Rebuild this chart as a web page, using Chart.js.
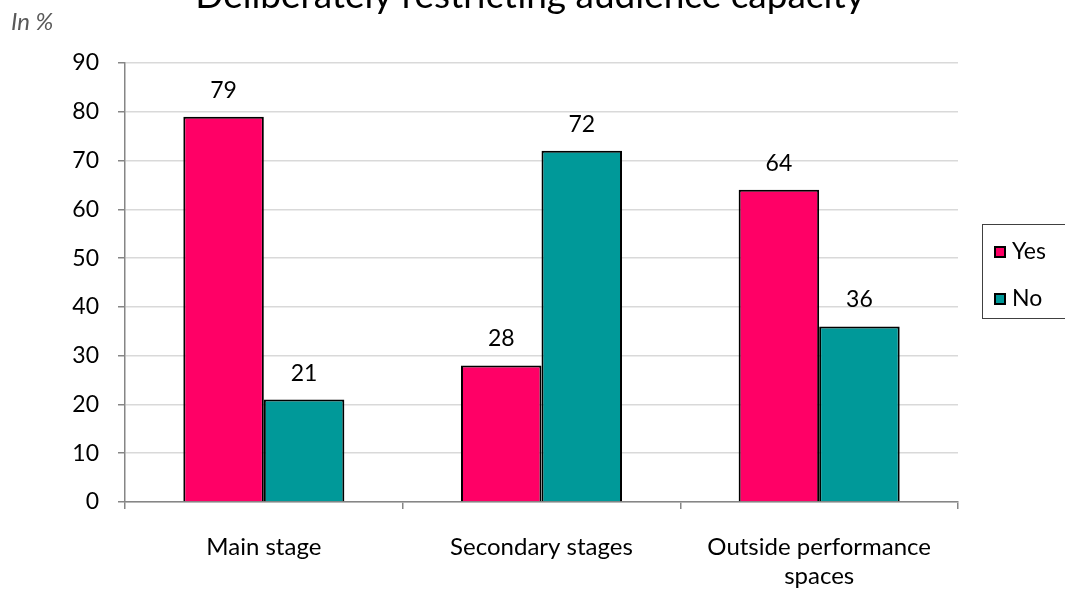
<!DOCTYPE html>
<html>
<head>
<meta charset="utf-8">
<script src="https://cdn.jsdelivr.net/npm/chart.js@4"></script>
<style>
  body { margin: 0; background: #fff; overflow: hidden; }
  #wrap { position: relative; width: 1065px; height: 589px; }
  #legend {
    position: absolute; left: 982px; top: 224px; width: 100px; height: 95px;
    border: 1px solid #404040; box-sizing: border-box;
    font-family: Lato, sans-serif; font-size: 23px; color: #000;
  }
  #legend div { position: absolute; left: 11px; height: 26px; line-height: 26px; }
  #legend span {
    display: inline-block; width: 8px; height: 8px; border: 2px solid #000;
    vertical-align: 1px; margin-right: 6px;
  }
</style>
</head>
<body>
<div id="wrap">
  <canvas id="chart" width="1065" height="589"></canvas>
  <div id="legend">
    <div style="top:12px"><span style="background:#FF0066"></span>Yes</div>
    <div style="top:59px"><span style="background:#009999"></span>No</div>
  </div>
</div>
<script>
let categories = ['Main stage', 'Secondary stages', ['Outside performance', 'spaces']];
let yesValues = [79, 28, 64];
let noValues = [21, 72, 36];
let yTicks = [0, 10, 20, 30, 40, 50, 60, 70, 80, 90];

const font = 'Lato, sans-serif';

// title (partly above the canvas), unit label and values over the bars
let extras = {
    id: 'extras',
    afterDatasetsDraw(chart) {
        let ctx = chart.ctx;
        ctx.save();
        ctx.fillStyle = '#000';
        ctx.font = '37px ' + font;
        ctx.textAlign = 'center';
        ctx.textBaseline = 'alphabetic';
        ctx.fillText('Deliberately restricting audience capacity', 530, 8);

        ctx.font = 'italic 24px ' + font;
        ctx.fillStyle = '#595959';
        ctx.textAlign = 'left';
        ctx.fillText('In %', 11, 30);

        ctx.font = '23px ' + font;
        ctx.fillStyle = '#000';
        ctx.textAlign = 'center';
        chart.data.datasets.forEach((ds, i) => {
            chart.getDatasetMeta(i).data.forEach((bar, j) => {
                ctx.fillText(ds.data[j], bar.x, bar.y - 19);
            });
        });
        ctx.restore();
    }
};

new Chart(document.getElementById('chart'), {
    type: 'bar',
    data: {
        labels: categories,
        datasets: [
            {
                label: 'Yes',
                data: yesValues,
                backgroundColor: '#FF0066',
                borderColor: '#000',
                borderWidth: 2,
                borderSkipped: 'bottom'
            },
            {
                label: 'No',
                data: noValues,
                backgroundColor: '#009999',
                borderColor: '#000',
                borderWidth: 2,
                borderSkipped: 'bottom'
            }
        ]
    },
    options: {
        responsive: false,
        animation: false,
        layout: { padding: { top: 63, right: 107, left: 0, bottom: 0 } },
        datasets: { bar: { categoryPercentage: 0.58, barPercentage: 1 } },
        plugins: {
            legend: { display: false },
            tooltip: { enabled: false }
        },
        scales: {
            x: {
                grid: { offset: true, drawOnChartArea: false, color: '#868686', tickLength: 7, lineWidth: 1.5 },
                border: { color: '#868686', width: 1.5 },
                ticks: { color: '#000', font: { family: font, size: 24 }, padding: 24 },
                afterFit(scale) { scale.height = 87; }
            },
            y: {
                min: 0,
                max: 90,
                afterBuildTicks(scale) { scale.ticks = yTicks.map(v => ({ value: v })); },
                grid: { color: '#d9d9d9', tickColor: '#868686', tickLength: 7, lineWidth: 1.5 },
                border: { color: '#868686', width: 1.5 },
                ticks: { color: '#000', font: { family: font, size: 23 }, padding: 19 },
                afterFit(scale) { scale.width = 125; }
            }
        }
    },
    plugins: [extras]
});
</script>
</body>
</html>
